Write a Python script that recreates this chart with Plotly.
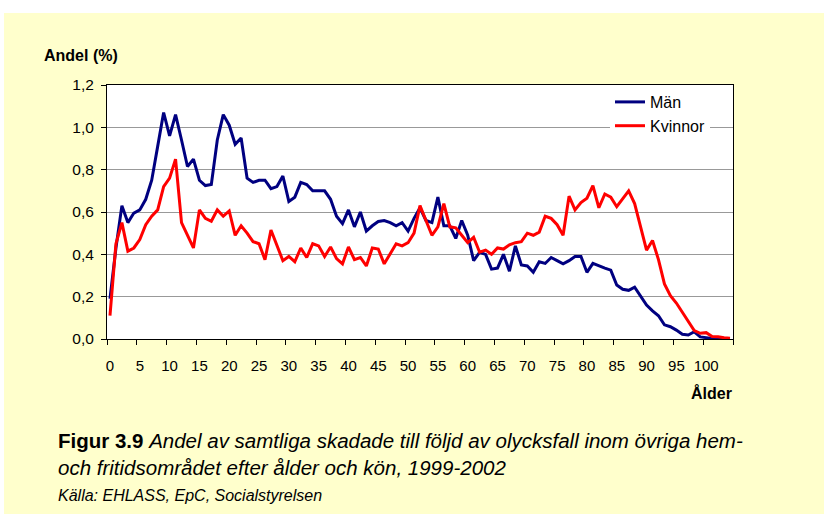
import plotly.graph_objects as go

ages = list(range(0, 105))

man = [0.19, 0.43, 0.63, 0.55, 0.595, 0.61, 0.66, 0.75, 0.91, 1.07,
       0.96, 1.06, 0.94, 0.815, 0.85, 0.75, 0.725, 0.73, 0.94, 1.06,
       1.01, 0.92, 0.95, 0.76, 0.74, 0.75, 0.75, 0.71, 0.72, 0.77,
       0.65, 0.67, 0.74, 0.73, 0.70, 0.70, 0.70, 0.66, 0.58, 0.545,
       0.61, 0.53, 0.60, 0.51, 0.535, 0.555, 0.56, 0.55, 0.535, 0.55,
       0.51, 0.57, 0.62, 0.56, 0.55, 0.67, 0.535, 0.535, 0.475, 0.56,
       0.49, 0.37, 0.41, 0.40, 0.33, 0.335, 0.40, 0.32, 0.44, 0.35,
       0.345, 0.315, 0.365, 0.357, 0.385, 0.37, 0.355, 0.37, 0.39, 0.39,
       0.315, 0.357, 0.345, 0.335, 0.325, 0.255, 0.235, 0.23, 0.245, 0.205,
       0.16, 0.133, 0.11, 0.067, 0.058, 0.042, 0.022, 0.019, 0.034, 0.01,
       0.005, 0.003, 0.0, 0.0, 0.0]

kvinnor = [0.11, 0.45, 0.55, 0.415, 0.43, 0.47, 0.54, 0.58, 0.61, 0.72,
           0.76, 0.85, 0.55, 0.49, 0.43, 0.61, 0.57, 0.556, 0.61, 0.58,
           0.605, 0.49, 0.535, 0.50, 0.46, 0.45, 0.375, 0.515, 0.44, 0.37,
           0.39, 0.365, 0.43, 0.385, 0.45, 0.44, 0.39, 0.435, 0.38, 0.355,
           0.435, 0.375, 0.385, 0.345, 0.43, 0.425, 0.355, 0.405, 0.45, 0.44,
           0.455, 0.50, 0.63, 0.56, 0.49, 0.53, 0.64, 0.53, 0.525, 0.49,
           0.455, 0.48, 0.41, 0.42, 0.40, 0.43, 0.425, 0.445, 0.455, 0.46,
           0.50, 0.49, 0.505, 0.58, 0.57, 0.54, 0.49, 0.675, 0.61, 0.645,
           0.665, 0.725, 0.62, 0.685, 0.67, 0.625, 0.66, 0.70, 0.64, 0.53,
           0.42, 0.465, 0.375, 0.26, 0.205, 0.17, 0.125, 0.08, 0.04, 0.027,
           0.03, 0.012, 0.011, 0.006, 0.004]

x_tick_labels = [str(v) for v in range(0, 101, 5)]
y_tick_vals = [0, 0.2, 0.4, 0.6, 0.8, 1.0, 1.2]
y_tick_labels = ["0,0", "0,2", "0,4", "0,6", "0,8", "1,0", "1,2"]

W, H = 824, 514
L, R, T, B = 107, 733, 85, 339
PW, PH = R - L, B - T


def xp(px):
    return (px - L) / PW


def yp(py):
    return (B - py) / PH


FONT = "Liberation Sans, Arial, sans-serif"

fig = go.Figure()
fig.add_trace(go.Scatter(x=ages, y=man, mode="lines", name="Män",
                         line=dict(color="#000080", width=3)))
fig.add_trace(go.Scatter(x=ages, y=kvinnor, mode="lines", name="Kvinnor",
                         line=dict(color="#FF0000", width=3)))

fig.update_layout(
    width=W, height=H,
    margin=dict(l=L, r=W - R, t=T, b=H - B, pad=0),
    paper_bgcolor="#FFFFCC",
    plot_bgcolor="#FFFFFF",
    font=dict(family=FONT, size=15, color="#000000"),
    showlegend=True,
    legend=dict(x=xp(610), y=yp(85), xanchor="left", yanchor="top",
                bgcolor="#FFFFFF", borderwidth=0,
                font=dict(family=FONT, size=16, color="#000000"),
                itemwidth=30, tracegroupgap=0),
    xaxis=dict(
        range=[-0.5, 104.5],
        tickmode="array",
        tickvals=[-0.5 + 5 * k for k in range(22)],
        ticktext=x_tick_labels + [""],
        ticklabelshift=3,
        ticklabelstandoff=8,
        ticks="outside", ticklen=5, tickcolor="#000000", tickwidth=1,
        showgrid=False, zeroline=False,
        showline=True, linecolor="#000000", linewidth=1, mirror=True,
        tickfont=dict(family=FONT, size=15, color="#000000"),
        fixedrange=True,
    ),
    yaxis=dict(
        range=[0, 1.2],
        tickmode="array",
        tickvals=y_tick_vals,
        ticktext=y_tick_labels,
        ticklabelstandoff=4,
        ticks="outside", ticklen=5, tickcolor="#000000", tickwidth=1,
        showgrid=True, gridcolor="#999999", gridwidth=1,
        zeroline=False,
        showline=True, linecolor="#000000", linewidth=1, mirror=True,
        tickfont=dict(family=FONT, size=15.5, color="#000000"),
        fixedrange=True,
    ),
)

# white page strip above and left of the yellow panel
fig.add_shape(type="rect", xref="paper", yref="paper",
              x0=xp(0), x1=xp(W), y0=yp(13), y1=yp(0),
              fillcolor="#FFFFFF", line=dict(width=0), layer="below")
fig.add_shape(type="rect", xref="paper", yref="paper",
              x0=xp(0), x1=xp(4), y0=yp(H), y1=yp(0),
              fillcolor="#FFFFFF", line=dict(width=0), layer="below")

annots = [
    dict(text="<b>Andel (%)</b>", x=xp(42), y=yp(55), xanchor="left",
         yanchor="middle", size=16),
    dict(text="<b>Ålder</b>", x=xp(734), y=yp(393), xanchor="right",
         yanchor="middle", size=16),
    dict(text="<b>Figur 3.9</b> <i>Andel av samtliga skadade till följd av olycksfall inom övriga hem-</i>",
         x=xp(56), y=yp(440), xanchor="left", yanchor="middle", size=20.5),
    dict(text="<i>och fritidsområdet efter ålder och kön, 1999-2002</i>",
         x=xp(56), y=yp(467), xanchor="left", yanchor="middle", size=20.5),
    dict(text="<i>Källa: EHLASS, EpC, Socialstyrelsen</i>",
         x=xp(56), y=yp(495), xanchor="left", yanchor="middle", size=16),
]
for a in annots:
    fig.add_annotation(text=a["text"], x=a["x"], y=a["y"], xref="paper",
                       yref="paper", xanchor=a["xanchor"],
                       yanchor=a["yanchor"], showarrow=False,
                       font=dict(family=FONT, size=a["size"], color="#000000"))

fig.write_html("out.html",
               config={"displayModeBar": False},
               post_script="document.body.style.margin='0px';")
